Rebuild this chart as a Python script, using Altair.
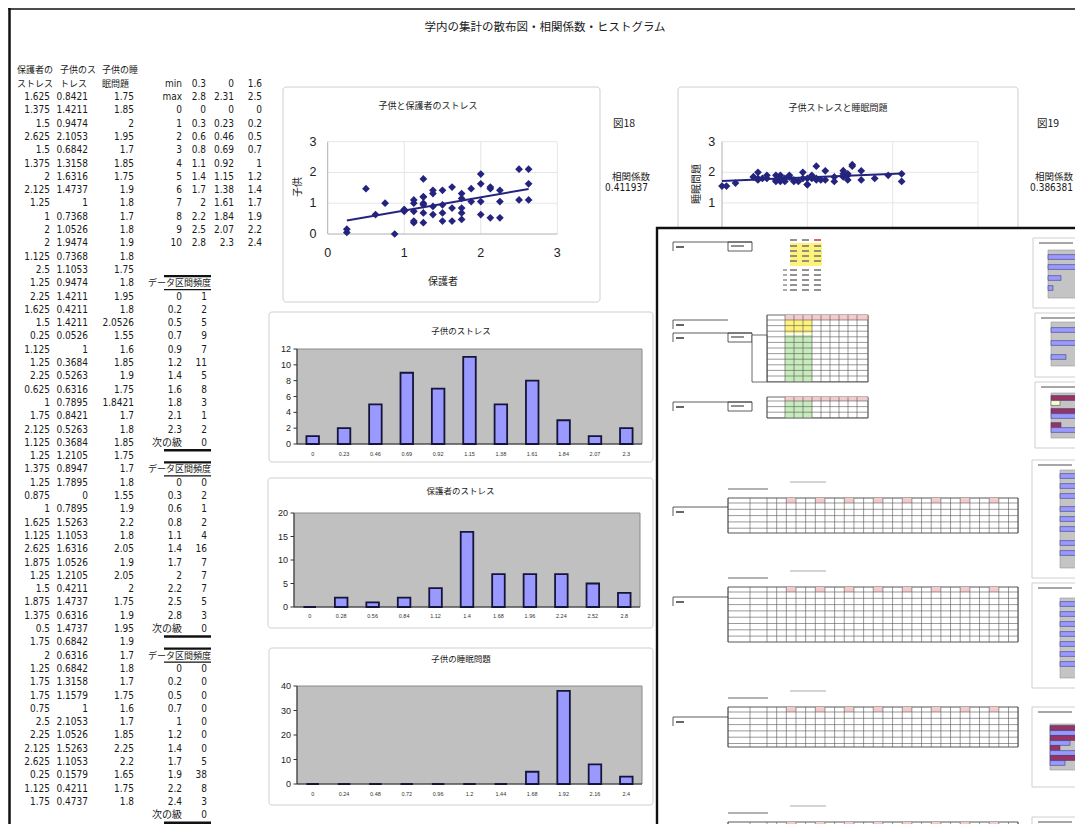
import altair as alt
import pandas as pd

W, H = 1067, 816
M = 8
ROW = 13.3


def px(v):
    return v - M


def py(v):
    return v - M


# ---------------- data ----------------
main_title = "学内の集計の散布図・相関係数・ヒストグラム"
head_top = ["保護者の", "子供のス", "子供の睡"]
head_bot = ["ストレス", "トレス", "眠問題"]

parent = [1.625, 1.375, 1.5, 2.625, 1.5, 1.375, 2, 2.125, 1.25, 1, 2, 2, 1.125, 2.5, 1.25, 2.25,
          1.625, 1.5, 0.25, 1.125, 1.25, 2.25, 0.625, 1, 1.75, 2.125, 1.125, 1.25, 1.375, 1.25,
          0.875, 1, 1.625, 1.125, 2.625, 1.875, 1.25, 1.5, 1.875, 1.375, 0.5, 1.75, 2, 1.25, 1.75,
          1.75, 0.75, 2.5, 2.25, 2.125, 2.625, 0.25, 1.125, 1.75]
child = [0.8421, 1.4211, 0.9474, 2.1053, 0.6842, 1.3158, 1.6316, 1.4737, 1, 0.7368, 1.0526,
         1.9474, 0.7368, 1.1053, 0.9474, 1.4211, 0.4211, 1.4211, 0.0526, 1, 0.3684, 0.5263,
         0.6316, 0.7895, 0.8421, 0.5263, 0.3684, 1.2105, 0.8947, 1.7895, 0, 0.7895, 1.5263,
         1.1053, 1.6316, 1.0526, 1.2105, 0.4211, 1.4737, 0.6316, 1.4737, 0.6842, 0.6316,
         0.6842, 1.3158, 1.1579, 1, 2.1053, 1.0526, 1.5263, 1.1053, 0.1579, 0.4211, 0.4737]
sleep = [1.75, 1.85, 2, 1.95, 1.7, 1.85, 1.75, 1.9, 1.8, 1.7, 1.8, 1.9, 1.8, 1.75, 1.8, 1.95,
         1.8, 2.0526, 1.55, 1.6, 1.85, 1.9, 1.75, 1.8421, 1.7, 1.8, 1.85, 1.75, 1.7, 1.8, 1.55,
         1.9, 2.2, 1.8, 2.05, 1.9, 2.05, 2, 1.75, 1.9, 1.95, 1.9, 1.7, 1.8, 1.7, 1.75, 1.6, 1.7,
         1.85, 2.25, 2.2, 1.65, 1.75, 1.8]

stat_labels = ["min", "max", "0", "1", "2", "3", "4", "5", "6", "7", "8", "9", "10"]
stat_parent = ["0.3", "2.8", "0", "0.3", "0.6", "0.8", "1.1", "1.4", "1.7", "2", "2.2", "2.5", "2.8"]
stat_child = ["0", "2.31", "0", "0.23", "0.46", "0.69", "0.92", "1.15", "1.38", "1.61", "1.84", "2.07", "2.3"]
stat_sleep = ["1.6", "2.5", "0", "0.2", "0.5", "0.7", "1", "1.2", "1.4", "1.7", "1.9", "2.2", "2.4"]

freq_head = ["データ区間", "頻度"]
bins_child = ["0", "0.2", "0.5", "0.7", "0.9", "1.2", "1.4", "1.6", "1.8", "2.1", "2.3", "次の級"]
freq_child = [1, 2, 5, 9, 7, 11, 5, 8, 3, 1, 2, 0]
bins_parent = ["0", "0.3", "0.6", "0.8", "1.1", "1.4", "1.7", "2", "2.2", "2.5", "2.8", "次の級"]
freq_parent = [0, 2, 1, 2, 4, 16, 7, 7, 7, 5, 3, 0]
bins_sleep = ["0", "0.2", "0.5", "0.7", "1", "1.2", "1.4", "1.7", "1.9", "2.2", "2.4", "次の級"]
freq_sleep = [0, 0, 0, 0, 0, 0, 0, 5, 38, 8, 3, 0]

hist_child_cats = ["0", "0.23", "0.46", "0.69", "0.92", "1.15", "1.38", "1.61", "1.84", "2.07", "2.3"]
hist_parent_cats = ["0", "0.28", "0.56", "0.84", "1.12", "1.4", "1.68", "1.96", "2.24", "2.52", "2.8"]
hist_sleep_cats = ["0", "0.24", "0.48", "0.72", "0.96", "1.2", "1.44", "1.68", "1.92", "2.16", "2.4"]

sc_ticks = [0, 1, 2, 3]
h1_ticks = [0, 2, 4, 6, 8, 10, 12]
h2_ticks = [0, 5, 10, 15, 20]
h3_ticks = [0, 10, 20, 30, 40]

sc1_title, sc1_xt, sc1_yt = "子供と保護者のストレス", "保護者", "子供"
sc2_title, sc2_xt, sc2_yt = "子供ストレスと睡眠問題", "子供", "睡眠問題"
h1_title, h2_title, h3_title = "子供のストレス", "保護者のストレス", "子供の睡眠問題"
fig18, fig19 = "図18", "図19"
corr_label = "相関係数"
corr1, corr2 = "0.411937", "0.386381"

# ---------------- styles ----------------
FONT_NUM = "'Liberation Sans Narrow', 'DejaVu Sans Condensed', 'Liberation Sans', 'Noto Sans CJK JP'"
FONT_JP = "'Noto Sans CJK JP', sans-serif"
FONT_AX = "'Liberation Sans', Arial, sans-serif"
NUM_SIZE = 10
INK = "#1a1a1a"
NAVY = "#24247e"
LAV = "#9999ff"
ONE = pd.DataFrame({"k": [0]})


def S(domain, rng):
    return alt.Scale(domain=domain, range=rng, nice=False, zero=False)


def fmt(v):
    return f"{v:g}"


def vrect(x0, y0, x1, y1, **kw):
    return alt.Chart(ONE).mark_rect(**kw).encode(
        x=alt.value(px(x0)), x2=alt.value(px(x1)), y=alt.value(py(y0)), y2=alt.value(py(y1)))


def vrule(x0, y0, x1, y1, **kw):
    return alt.Chart(ONE).mark_rule(**kw).encode(
        x=alt.value(px(x0)), x2=alt.value(px(x1)), y=alt.value(py(y0)), y2=alt.value(py(y1)))


def vtext(s, x, y, **kw):
    return alt.Chart(pd.DataFrame({"t": [s]})).mark_text(**kw).encode(
        x=alt.value(px(x)), y=alt.value(py(y)), text="t:N")


L = []

# page frame
L.append(alt.Chart(ONE).mark_rule(color="#111", strokeWidth=2.5).encode(
    x=alt.value(1.5), y=alt.value(0), y2=alt.value(H)))
L.append(alt.Chart(ONE).mark_rule(color="#111", strokeWidth=1.5).encode(
    x=alt.value(0), x2=alt.value(W), y=alt.value(1)))

L.append(vtext(main_title, 545, 28, font=FONT_JP, fontSize=11.5, color=INK))

# ---------------- left tables ----------------
rs = S([0, 54], [py(97), py(97 + 54 * ROW)])


def col_text(df, field, xpos, align="right", font=FONT_NUM, size=NUM_SIZE, **kw):
    return alt.Chart(df).mark_text(align=align, baseline="middle", font=font, fontSize=size,
                                   color=INK, **kw).encode(
        x=alt.value(px(xpos)), y=alt.Y("idx:Q", scale=rs, axis=None), text=f"{field}:N")


tbl = pd.DataFrame({"idx": list(range(len(parent))),
                    "p": [fmt(v) for v in parent],
                    "c": [fmt(v) for v in child],
                    "s": [fmt(v) for v in sleep]})
L.append(col_text(tbl, "p", 50))
L.append(col_text(tbl, "c", 88))
L.append(col_text(tbl, "s", 134))

for j, xpos in enumerate([17, 60, 102]):
    hd = pd.DataFrame({"idx": [-2, -1], "t": [head_top[j], head_bot[j]]})
    L.append(col_text(hd, "t", xpos, align="left", font=FONT_JP, size=9))

st = pd.DataFrame({"idx": list(range(-1, 12)), "a": stat_labels, "b": stat_parent,
                   "c": stat_child, "d": stat_sleep})
L.append(col_text(st, "a", 182))
L.append(col_text(st, "b", 206))
L.append(col_text(st, "c", 234))
L.append(col_text(st, "d", 262))

fq = pd.DataFrame({
    "idx": list(range(15, 27)) + list(range(29, 41)) + list(range(43, 55)),
    "bin": bins_child + bins_parent + bins_sleep,
    "n": [str(v) for v in freq_child + freq_parent + freq_sleep]})
L.append(col_text(fq, "bin", 182))
L.append(col_text(fq, "n", 207))

fh = pd.DataFrame({"idx": [14, 28, 42], "a": [freq_head[0]] * 3, "b": [freq_head[1]] * 3})
L.append(col_text(fh, "a", 148, align="left", font=FONT_JP, size=9))
L.append(col_text(fh, "b", 211, font=FONT_JP, size=9))
L.append(alt.Chart(fh).mark_rule(color="#111", strokeWidth=2.2, yOffset=-7).encode(
    x=alt.value(px(164)), x2=alt.value(px(211)), y=alt.Y("idx:Q", scale=rs, axis=None)))
L.append(alt.Chart(fh).mark_rule(color="#111", strokeWidth=1.3, yOffset=6.5).encode(
    x=alt.value(px(164)), x2=alt.value(px(211)), y=alt.Y("idx:Q", scale=rs, axis=None)))
fe = pd.DataFrame({"idx": [26, 40, 54]})
L.append(alt.Chart(fe).mark_rule(color="#111", strokeWidth=2.6, yOffset=7.5).encode(
    x=alt.value(px(164)), x2=alt.value(px(211)), y=alt.Y("idx:Q", scale=rs, axis=None)))

# ---------------- scatter plots ----------------
sc = pd.DataFrame({"p": parent, "c": child, "s": sleep})


def scatter(xf, yf, xr, yr, box, title, txy, ytitle, ytxy, xtitle, xtxy, ylab_x, xlab_y):
    xs = S([0, 3], [px(xr[0]), px(xr[1])])
    ys = S([0, 3], [py(yr[0]), py(yr[1])])
    out = [vrect(*box, fill="white", stroke="#cfcfcf", strokeWidth=1, cornerRadius=3)]
    g = pd.DataFrame({"v": sc_ticks[1:]})
    out.append(alt.Chart(g).mark_rule(color="#e6e6e6").encode(
        y=alt.Y("v:Q", scale=ys, axis=None), x=alt.value(px(xr[0])), x2=alt.value(px(xr[1]))))
    out.append(alt.Chart(g).mark_rule(color="#e6e6e6").encode(
        x=alt.X("v:Q", scale=xs, axis=None), y=alt.value(py(yr[1])), y2=alt.value(py(yr[0]))))
    out.append(vrule(xr[0], yr[0], xr[1], yr[0], color="#b0b0b0"))
    out.append(vrule(xr[0], yr[1], xr[0], yr[0], color="#b0b0b0"))
    out.append(alt.Chart(sc).mark_point(shape="diamond", filled=True, size=60, color=NAVY,
                                        opacity=1).encode(
        x=alt.X(f"{xf}:Q", scale=xs, axis=None), y=alt.Y(f"{yf}:Q", scale=ys, axis=None)))
    out.append(alt.Chart(sc).transform_regression(xf, yf).mark_line(color=NAVY, strokeWidth=2).encode(
        x=alt.X(f"{xf}:Q", scale=xs, axis=None), y=alt.Y(f"{yf}:Q", scale=ys, axis=None)))
    t = pd.DataFrame({"v": sc_ticks, "lab": [str(v) for v in sc_ticks]})
    out.append(alt.Chart(t).mark_text(font=FONT_AX, fontSize=12.5, color="#222", baseline="middle").encode(
        y=alt.Y("v:Q", scale=ys, axis=None), x=alt.value(px(ylab_x)), text="lab:N"))
    out.append(alt.Chart(t).mark_text(font=FONT_AX, fontSize=12.5, color="#222", baseline="middle").encode(
        x=alt.X("v:Q", scale=xs, axis=None), y=alt.value(py(xlab_y)), text="lab:N"))
    out.append(vtext(title, txy[0], txy[1], font=FONT_JP, fontSize=9, color="#222"))
    out.append(vtext(ytitle, ytxy[0], ytxy[1], font=FONT_JP, fontSize=10, color="#222", angle=270))
    out.append(vtext(xtitle, xtxy[0], xtxy[1], font=FONT_JP, fontSize=10, color="#222"))
    return out


L += scatter("p", "c", (327.7, 557.3), (234, 141.7), (283, 87, 600, 302), sc1_title, (428, 106),
             sc1_yt, (298, 187), sc1_xt, (443, 282), 313, 253)
L += scatter("c", "s", (722, 978), (233.5, 141.7), (678, 87, 1018, 320), sc2_title, (838, 108),
             sc2_yt, (697, 184), sc2_xt, (850, 282), 711.7, 253)

L.append(vtext(fig18, 613, 124, font=FONT_JP, fontSize=10.5, color=INK, align="left"))
L.append(vtext(corr_label, 612, 177, font=FONT_JP, fontSize=9.5, color=INK, align="left"))
L.append(vtext(corr1, 648, 188, font=FONT_NUM, fontSize=NUM_SIZE, color=INK, align="right"))
L.append(vtext(fig19, 1037, 124, font=FONT_JP, fontSize=10.5, color=INK, align="left"))
L.append(vtext(corr_label, 1035, 177, font=FONT_JP, fontSize=9.5, color=INK, align="left"))
L.append(vtext(corr2, 1073, 188, font=FONT_NUM, fontSize=NUM_SIZE, color=INK, align="right"))


# ---------------- histograms ----------------
def hist(cats, counts, ticks, box, plot, title, title_y, xlab_y):
    x0, y0, x1, y1 = plot
    xs = alt.Scale(type="band", domain=cats, range=[px(x0), px(x1)], paddingInner=0.6, paddingOuter=0.3)
    ys = S([0, ticks[-1]], [py(y1), py(y0)])
    df = pd.DataFrame({"cat": cats, "n": counts})
    out = [vrect(*box, fill="white", stroke="#cfcfcf", strokeWidth=1, cornerRadius=3)]
    out.append(vrect(x0, y0, x1, y1, fill="#c0c0c0", stroke="#8a8a8a", strokeWidth=1))
    out.append(vrule(x0, y0, x0, y1, color="#333", strokeWidth=1))
    out.append(vrule(x0, y1, x1, y1, color="#333", strokeWidth=1))
    out.append(alt.Chart(df).mark_bar(fill=LAV, stroke="#15153a", strokeWidth=1.8).encode(
        x=alt.X("cat:N", scale=xs, sort=cats, axis=None), y=alt.Y("n:Q", scale=ys, axis=None)))
    t = pd.DataFrame({"v": ticks, "lab": [str(v) for v in ticks]})
    out.append(alt.Chart(t).mark_rule(color="#333").encode(
        y=alt.Y("v:Q", scale=ys, axis=None), x=alt.value(px(x0 - 3.5)), x2=alt.value(px(x0))))
    out.append(alt.Chart(t).mark_text(font=FONT_AX, fontSize=9, color="#222", align="right",
                                      baseline="middle").encode(
        y=alt.Y("v:Q", scale=ys, axis=None), x=alt.value(px(x0 - 6)), text="lab:N"))
    out.append(alt.Chart(df).mark_text(font=FONT_AX, fontSize=5.5, color="#333", baseline="middle").encode(
        x=alt.X("cat:N", scale=xs, sort=cats, axis=None), y=alt.value(py(xlab_y)), text="cat:N"))
    out.append(vtext(title, (box[0] + box[2]) / 2, title_y, font=FONT_JP, fontSize=8.5, color="#222"))
    return out


L += hist(hist_child_cats, freq_child[:11], h1_ticks, (269, 312, 653, 462), (297, 349, 642, 444),
          h1_title, 331, 454)
L += hist(hist_parent_cats, freq_parent[:11], h2_ticks, (268, 478, 653, 628), (294, 513, 640, 607),
          h2_title, 491, 616)
L += hist(hist_sleep_cats, freq_sleep[:11], h3_ticks, (269, 648, 653, 805), (297, 686, 642, 784),
          h3_title, 659, 794)

# ---------------- inset (photo of another sheet, decorative) ----------------
rects, rules = [], []


def R(x0, y0, x1, y1, fill="white", stroke="transparent", sw=0.0):
    rects.append(dict(x=px(x0), x2=px(x1), y=py(y0), y2=py(y1), fill=fill, stroke=stroke, sw=sw))


def LN(x0, y0, x1, y1, color="#444", sw=0.8):
    rules.append(dict(x=px(x0), x2=px(x1), y=py(y0), y2=py(y1), color=color, sw=sw))


R(657, 228, 1110, 860, "white", "#111", 2.4)


def bracket(y, box=True):
    LN(673, y, 752 if box else 728, y, "#333", 0.8)
    LN(673, y, 673, y + 9, "#333", 0.8)
    LN(676, y + 5, 684, y + 5, "#666", 2)
    if box:
        R(728, y, 752, y + 9, "white", "#333", 0.8)
        LN(731, y + 4, 744, y + 4, "#777", 1.6)


bracket(242)
bracket(320, box=False)
bracket(333)
bracket(402)

# yellow mini table
R(790, 243, 822, 266, "#fff27a")
for yy in [240, 246, 251, 256, 261, 270, 275, 280, 285, 290]:
    for a, b in [(790, 797), (802, 809), (814, 821)]:
        LN(a, yy, b, yy, "#d04040" if (yy == 240 and a == 814) else "#777", 1.6)
    if yy >= 270:
        LN(783, yy, 787, yy, "#888", 1.4)


def small_table(top, bottom, head_h, ycells):
    R(767, top, 868, bottom, "white", "#444", 0.8)
    R(785, top, 868, top + head_h, "#f4caca")
    for (a, b, c) in ycells:
        R(785, a, 812, b, c)
    for xv in [767, 785, 794, 803, 812, 821, 830, 839, 848, 857, 868]:
        LN(xv, top, xv, bottom, "#555", 0.6)
    yy = top + head_h
    while yy < bottom:
        LN(767, yy, 868, yy, "#555", 0.6)
        yy += 5.6


small_table(315, 382, 5, [(320, 333, "#fff27a"), (335, 382, "#c6ecbc")])
R(752, 335, 767, 382, "white", "#444", 0.8)
small_table(397, 418, 4, [(401, 418, "#c6ecbc")])


def long_table(top, bottom, label_y):
    LN(728, top - 9, 768, top - 9, "#999", 1.4)
    LN(790, top - 16, 826, top - 16, "#aaa", 1.2)
    R(728, top, 1018, bottom, "white", "#444", 0.9)
    xs = [728, 750, 767]
    xv = 767
    k = 0
    while xv + 9.66 <= 1019:
        if k % 3 == 2:
            R(xv, top, xv + 9.66, top + 5, "#f4caca")
        xv += 9.66
        xs.append(xv)
        k += 1
    for xv in xs:
        LN(xv, top, xv, bottom, "#555", 0.6)
    yy = top + 5
    while yy < bottom:
        LN(728, yy, 1018, yy, "#555", 0.6)
        yy += 6.3
    bracket(label_y, box=False)


long_table(498, 533, 507)
long_table(587, 642, 597)
long_table(707, 747, 717)
long_table(822, 870, 832)


def mini_chart(box, plot, bars):
    R(box[0], box[1], box[2], box[3], "white", "#cfcfcf", 1)
    R(plot[0], plot[1], plot[2], plot[3], "#c4c4c4", "#999", 0.6)
    for (yc, x1, col) in bars:
        R(plot[0], yc - 2.4, x1, yc + 2.4, col, "#303060", 0.5)
    LN(box[0] + 6, box[1] + 5, box[0] + 40, box[1] + 5, "#888", 1.4)


MAR = "#993366"
mini_chart((1033, 238, 1110, 308), (1048, 250, 1110, 298),
           [(257, 1110, LAV), (267, 1110, LAV), (278, 1061, LAV), (288, 1053, LAV)])
mini_chart((1035, 313, 1110, 377), (1051, 322, 1110, 366),
           [(330, 1110, LAV), (343, 1110, LAV), (357, 1066, LAV)])
mini_chart((1035, 382, 1110, 448), (1051, 393, 1110, 438),
           [(398, 1110, MAR), (403, 1060, "#ffffcc"), (411, 1110, MAR), (416, 1110, LAV),
            (425, 1061, MAR), (430, 1110, LAV)])
mini_chart((1032, 460, 1110, 578), (1060, 470, 1110, 568),
           [(476, 1110, LAV), (486, 1110, LAV), (496, 1110, LAV), (509, 1110, LAV),
            (519, 1110, LAV), (529, 1110, LAV), (543, 1110, LAV), (553, 1110, LAV)])
mini_chart((1032, 583, 1110, 688), (1060, 598, 1110, 678),
           [(604, 1110, LAV), (614, 1110, LAV), (624, 1110, LAV), (634, 1110, LAV),
            (644, 1110, LAV), (654, 1110, LAV), (664, 1110, LAV)])
mini_chart((1032, 707, 1110, 787), (1050, 724, 1110, 770),
           [(728, 1110, MAR), (733, 1080, LAV), (738, 1100, MAR), (743, 1070, LAV),
            (748, 1060, MAR), (753, 1110, LAV), (758, 1090, MAR), (763, 1065, LAV)])
mini_chart((1032, 817, 1110, 870), (1050, 832, 1110, 870), [])

rdf = pd.DataFrame(rects)
L.append(alt.Chart(rdf).mark_rect().encode(
    x=alt.X("x:Q", scale=None, axis=None), x2="x2:Q",
    y=alt.Y("y:Q", scale=None, axis=None), y2="y2:Q",
    fill=alt.Fill("fill:N", scale=None), stroke=alt.Stroke("stroke:N", scale=None),
    strokeWidth=alt.StrokeWidth("sw:Q", scale=None)))
ldf = pd.DataFrame(rules)
L.append(alt.Chart(ldf).mark_rule().encode(
    x=alt.X("x:Q", scale=None, axis=None), x2="x2:Q",
    y=alt.Y("y:Q", scale=None, axis=None), y2="y2:Q",
    color=alt.Color("color:N", scale=None),
    strokeWidth=alt.StrokeWidth("sw:Q", scale=None)))

chart = alt.layer(*L).resolve_scale(x="independent", y="independent").properties(
    width=W, height=H, autosize=alt.AutoSizeParams(type="none"), padding=0,
    background="white").configure_view(stroke=None)

chart.save("out.html", embed_options={"renderer": "svg", "actions": False})
